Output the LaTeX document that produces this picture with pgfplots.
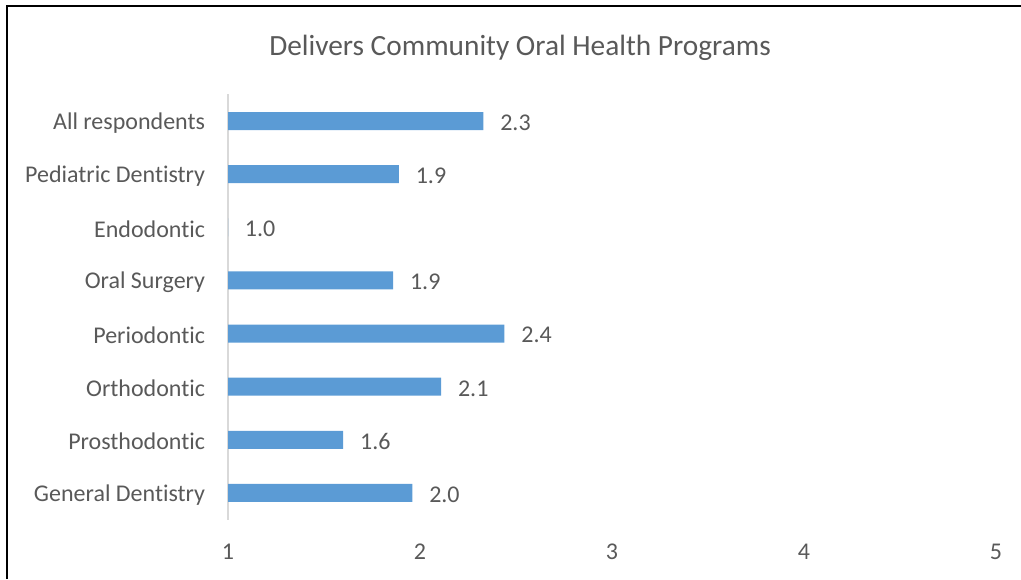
\documentclass[border=0pt]{standalone}
\usepackage{pgfplots}
\pgfplotsset{compat=1.18}
\usepackage{fontspec}
\setmainfont{Carlito}[Ligatures={NoCommon}]
\definecolor{barblue}{HTML}{5B9BD5}
\definecolor{txt}{HTML}{595959}
\definecolor{axgray}{HTML}{D9D9D9}
\begin{document}
\begin{tikzpicture}[x=0.75pt,y=0.75pt]
\useasboundingbox (0,0) rectangle (1021,579);
\draw[black,line width=1.5pt] (7,0) -- (7,573) -- (1021,573);
\node[txt,font=\fontsize{22}{26}\selectfont] at (520,531) {Delivers Community Oral Health Programs};
\begin{axis}[
  at={(228pt*0.75,59.5pt*0.75)}, anchor=south west,
  scale only axis, width=576pt, height=318.75pt,
  xbar, bar shift=0pt, bar width=13.5pt,
  xmin=1, xmax=5, ymin=-0.5, ymax=7.5,
  xtick={1,2,3,4,5},
  ytick={0,...,7},
  yticklabels={General Dentistry,Prosthodontic,Orthodontic,Periodontic,Oral Surgery,Endodontic,Pediatric Dentistry,All respondents},
  axis y line*=left,
  axis x line*=bottom,
  x axis line style={draw=none,-},
  y axis line style={axgray,line width=1pt,-},
  tick style={draw=none},
  major tick length=0pt,
  xticklabel style={txt,font=\fontsize{18}{21}\selectfont,anchor=center,inner sep=0pt,yshift=-24.3pt},
  yticklabel style={txt,font=\fontsize{18}{21}\selectfont,anchor=east,inner sep=0pt,xshift=-17pt,yshift=-1.3pt},
  /pgf/number format/assume math mode=true,
  nodes near coords,
  nodes near coords style={txt,font=\fontsize{18}{21}\selectfont,anchor=west,inner sep=0pt,xshift=12.5pt,yshift=-1.3pt,
    /pgf/number format/fixed,/pgf/number format/zerofill,/pgf/number format/precision=1},
  clip=true,
]
\addplot[fill=barblue,draw=none] coordinates {
(1.96,0) (1.60,1) (2.11,2) (2.44,3) (1.86,4) (1.00,5) (1.89,6) (2.33,7)};
\end{axis}
\end{tikzpicture}
\end{document}
